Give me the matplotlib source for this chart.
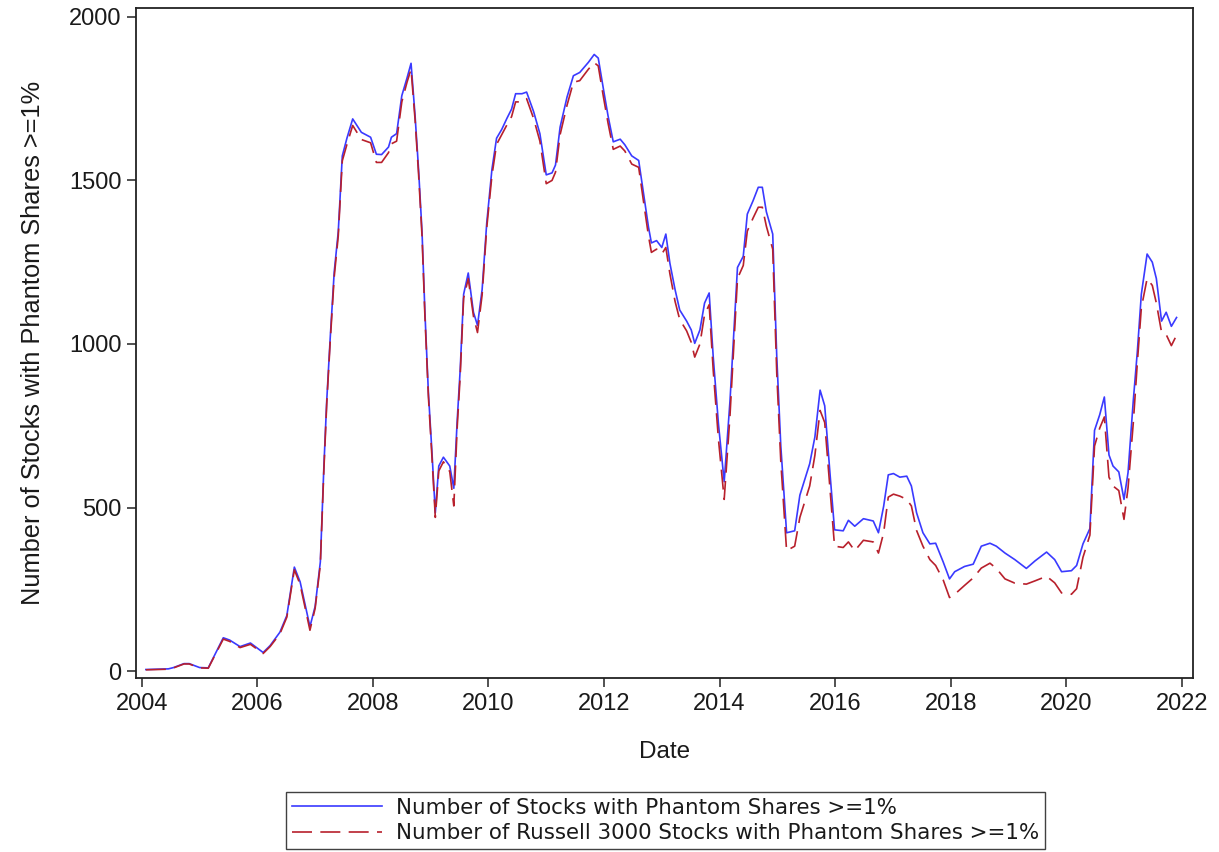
import numpy as np
import matplotlib.pyplot as plt

plt.rcParams['font.family'] = ['Liberation Sans', 'DejaVu Sans']

# decimal-year dates
dates = [2004.07, 2004.46, 2004.55, 2004.73, 2004.82, 2005.00, 2005.15, 2005.41, 2005.52, 2005.70,
         2005.88, 2006.10, 2006.22, 2006.39, 2006.51, 2006.64, 2006.74, 2006.91, 2007.00, 2007.09,
         2007.15, 2007.20, 2007.26, 2007.33, 2007.40, 2007.47, 2007.55, 2007.65, 2007.80, 2007.96,
         2008.06, 2008.15, 2008.27, 2008.32, 2008.41, 2008.50, 2008.59, 2008.66, 2008.73, 2008.79,
         2008.85, 2008.90, 2008.96, 2009.02, 2009.08, 2009.14, 2009.22, 2009.33, 2009.40, 2009.46,
         2009.51, 2009.57, 2009.65, 2009.74, 2009.81, 2009.89, 2009.97, 2010.06, 2010.14, 2010.23,
         2010.32, 2010.40, 2010.47, 2010.58, 2010.66, 2010.78, 2010.89, 2011.00, 2011.10, 2011.16,
         2011.24, 2011.36, 2011.47, 2011.58, 2011.73, 2011.83, 2011.90, 2011.99, 2012.07, 2012.16,
         2012.28, 2012.36, 2012.48, 2012.60, 2012.68, 2012.77, 2012.82, 2012.91, 2013.00, 2013.07,
         2013.14, 2013.23, 2013.31, 2013.43, 2013.51, 2013.57, 2013.66, 2013.74, 2013.82, 2013.89,
         2013.98, 2014.08, 2014.18, 2014.31, 2014.41, 2014.48, 2014.58, 2014.67, 2014.74, 2014.81,
         2014.92, 2014.99, 2015.06, 2015.16, 2015.30, 2015.39, 2015.56, 2015.65, 2015.74, 2015.82,
         2015.91, 2015.99, 2016.14, 2016.23, 2016.34, 2016.49, 2016.66, 2016.75, 2016.84, 2016.92,
         2017.01, 2017.12, 2017.24, 2017.32, 2017.41, 2017.52, 2017.64, 2017.74, 2017.87, 2017.98,
         2018.07, 2018.24, 2018.39, 2018.53, 2018.68, 2018.79, 2018.94, 2019.11, 2019.31, 2019.46,
         2019.66, 2019.80, 2019.92, 2020.09, 2020.18, 2020.29, 2020.41, 2020.49, 2020.58, 2020.66,
         2020.74, 2020.81, 2020.91, 2021.00, 2021.07, 2021.16, 2021.23, 2021.30, 2021.40, 2021.49,
         2021.56, 2021.65, 2021.73, 2021.82, 2021.91]

all_stocks = [5, 7, 11, 23, 23, 11, 10, 102, 95, 75,
              86, 57, 78, 119, 170, 318, 273, 136, 198, 334,
              620, 825, 1016, 1220, 1343, 1575, 1629, 1688, 1647, 1632,
              1580, 1579, 1602, 1632, 1643, 1759, 1813, 1858, 1697, 1534,
              1343, 1097, 852, 675, 484, 627, 654, 627, 559, 770,
              920, 1152, 1217, 1097, 1057, 1166, 1370, 1534, 1629, 1656,
              1690, 1718, 1765, 1765, 1770, 1711, 1643, 1517, 1523, 1547,
              1663, 1755, 1820, 1830, 1861, 1885, 1874, 1779, 1697, 1618,
              1626, 1609, 1575, 1561, 1466, 1357, 1309, 1316, 1295, 1336,
              1247, 1166, 1104, 1070, 1043, 1002, 1043, 1125, 1156, 961,
              757, 579, 825, 1234, 1268, 1397, 1438, 1479, 1479, 1404,
              1336, 961, 688, 423, 429, 538, 634, 716, 859, 811,
              607, 432, 429, 461, 443, 466, 459, 423, 504, 600,
              604, 593, 596, 566, 484, 423, 389, 391, 334, 282,
              304, 320, 327, 382, 391, 382, 361, 341, 314, 337,
              364, 341, 304, 307, 323, 389, 436, 736, 784, 838,
              661, 627, 609, 525, 607, 825, 975, 1152, 1275, 1250,
              1200, 1070, 1097, 1054, 1081]

russell = [4, 6, 10, 22, 22, 10, 9, 98, 91, 72,
           82, 54, 75, 114, 165, 310, 265, 125, 192, 325,
           610, 815, 1005, 1205, 1330, 1560, 1610, 1668, 1625, 1615,
           1555, 1555, 1585, 1612, 1620, 1740, 1800, 1840, 1685, 1520,
           1330, 1085, 840, 660, 470, 612, 640, 610, 505, 750,
           900, 1140, 1200, 1085, 1035, 1150, 1355, 1515, 1610, 1640,
           1670, 1695, 1740, 1740, 1750, 1690, 1620, 1490, 1500, 1525,
           1640, 1730, 1800, 1805, 1840, 1860, 1850, 1755, 1675, 1595,
           1605, 1590, 1550, 1540, 1440, 1330, 1280, 1290, 1275, 1295,
           1215, 1130, 1075, 1040, 1005, 960, 1000, 1090, 1120, 920,
           710, 525, 780, 1200, 1240, 1345, 1385, 1418, 1418, 1360,
           1290, 910, 640, 368, 382, 470, 566, 660, 797, 760,
           560, 382, 378, 395, 368, 400, 395, 361, 423, 532,
           541, 535, 525, 505, 430, 382, 341, 323, 279, 225,
           235, 262, 285, 315, 330, 314, 282, 269, 266, 276,
           290, 270, 239, 235, 252, 348, 416, 688, 743, 777,
           593, 566, 552, 464, 560, 757, 940, 1110, 1200, 1179,
           1125, 1036, 1029, 995, 1027]

fig = plt.figure(figsize=(12.19, 8.52), dpi=100)
ax = fig.add_axes([0.1116, 0.2042, 0.8671, 0.7864])

ax.plot(dates, all_stocks, '-', color='#3a3aff', lw=1.2,
        label='Number of Stocks with Phantom Shares >=1%')
ax.plot(dates, russell, color='#b8202c', lw=1.2, dashes=(12, 5),
        label='Number of Russell 3000 Stocks with Phantom Shares >=1%')

ax.set_xlim(2003.90, 2022.195)
ax.set_ylim(-21, 2027)
ax.set_xticks(np.arange(2004, 2023, 2))
ax.set_xticklabels([str(y) for y in range(2004, 2023, 2)])
ax.set_yticks(np.arange(0, 2001, 500))
ax.tick_params(direction='out', length=6.5, width=1.2, labelsize=17, colors='#333333',
               labelcolor='#1a1a1a')
ax.tick_params(axis='x', pad=4)
ax.tick_params(axis='y', pad=4)
for s in ax.spines.values():
    s.set_linewidth(1.3)
    s.set_color('#222222')

ax.set_xlabel('Date', fontsize=17.5, labelpad=19, color='#1a1a1a')
ax.set_ylabel('Number of Stocks with Phantom Shares >=1%', fontsize=18.3, labelpad=17,
              color='#1a1a1a')

leg = ax.legend(loc='upper center', bbox_to_anchor=(0.501, -0.170),
                prop={'family': 'DejaVu Sans', 'size': 15.4},
                frameon=True, fancybox=False, edgecolor='#111111', handlelength=4.2,
                handletextpad=0.65, borderpad=0.28, labelspacing=0.25, borderaxespad=0)
leg.get_frame().set_linewidth(1.0)
for t in leg.get_texts():
    t.set_color('#1a1a1a')

fig.savefig('out.png', dpi=100)
